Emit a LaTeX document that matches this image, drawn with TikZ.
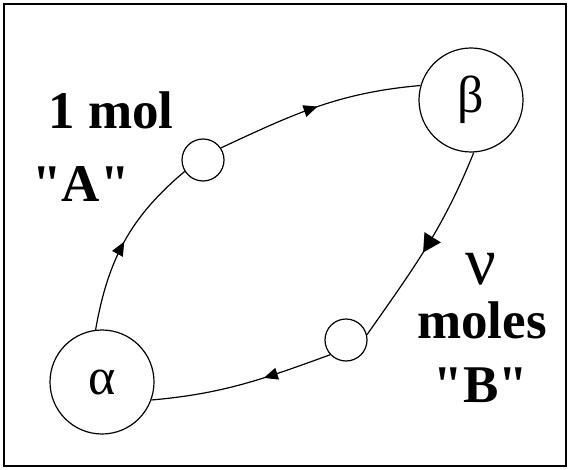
\documentclass[tikz,border=0pt]{standalone}
\usepackage{fontspec}
\setmainfont{Liberation Serif}[Ligatures=TeXOff]
\usetikzlibrary{decorations.markings,arrows.meta}
\begin{document}
\begin{tikzpicture}[x=1pt,y=1pt,
  big/.style={circle,draw,line width=1.2pt,minimum size=104pt,inner sep=0pt,font=\fontsize{52}{54}\selectfont},
  small/.style={circle,draw,line width=1.2pt,minimum size=42pt,inner sep=0pt},
  lbl/.style={font=\fontsize{53}{60}\selectfont\bfseries,inner sep=0pt},
  flow/.style={line width=1.2pt,postaction={decorate},
    decoration={markings,mark=at position #1 with {\arrow{Triangle[length=14pt,width=12pt]}}}},
  bigflow/.style={line width=1.2pt,postaction={decorate},
    decoration={markings,mark=at position #1 with {\arrow{Triangle[length=18pt,width=19pt]}}}}]
\useasboundingbox (0,0) rectangle (569,469);
\draw[line width=2.5pt] (4,3) rectangle (566,465);
\node[big] (al) at (102,87) {α};
\node[big] (be) at (471,369) {β};
\node[small] (sa) at (203,309) {};
\node[small] (sb) at (346,129) {};
\node[lbl] (t1) at (111,359) {1 mol};
\node[lbl] (t2) at (81,285) {"A"};
\node[lbl,font=\fontsize{68}{70}\selectfont] (t3) at (481,200) {ν};
\node[lbl] (t4) at (482,149) {moles};
\node[lbl] (t5) at (481,84) {"B"};
\draw[flow=0.5] (al.97) to[out=80,in=220] (sa.212);
\draw[flow=0.5] (sa.34) to[out=25,in=185] (be.164);
\draw[bigflow=0.53] (be.273) to[out=-112,in=55] (sb.14);
\draw[flow=0.38] (sb.223) to[out=200,in=5] (al.-20);
\end{tikzpicture}
\end{document}
